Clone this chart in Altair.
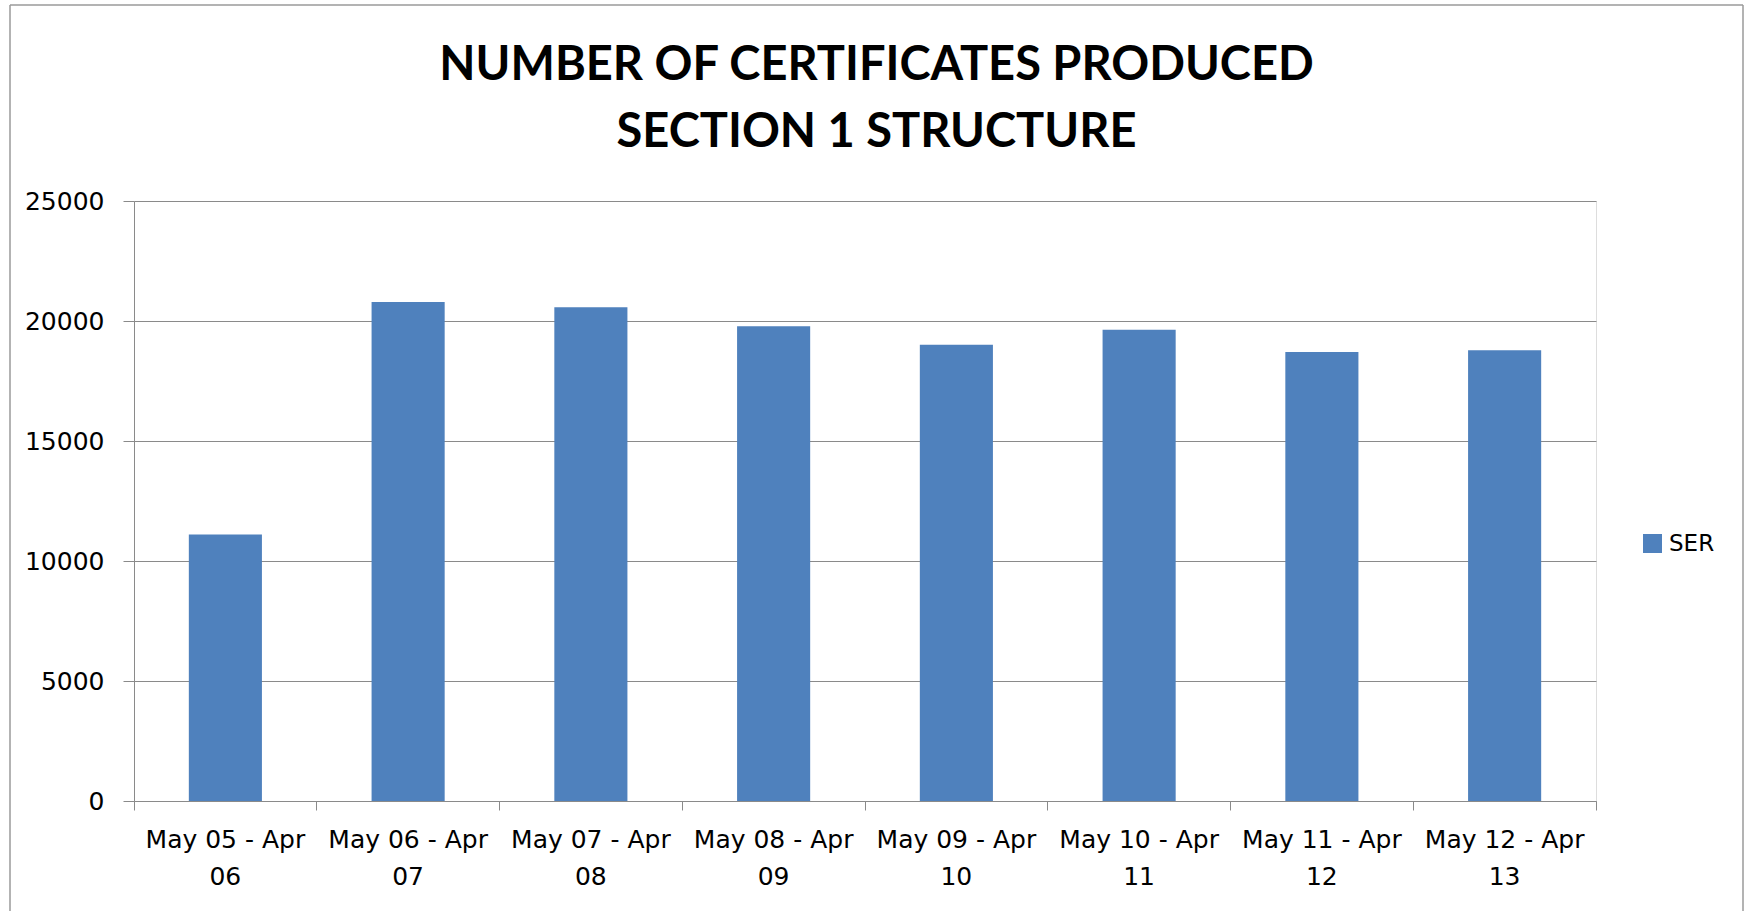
import altair as alt
import pandas as pd

# Certificates produced per reporting year (May - April)
periods = [
    "May 05 - Apr 06", "May 06 - Apr 07", "May 07 - Apr 08", "May 08 - Apr 09",
    "May 09 - Apr 10", "May 10 - Apr 11", "May 11 - Apr 12", "May 12 - Apr 13",
]
certificates = [11100, 20790, 20570, 19780, 19010, 19640, 18710, 18780]
series = ["SER"] * len(periods)
y_ticks = [0, 5000, 10000, 15000, 20000, 25000]

TITLE_FONT = "Lato"
FONT = "DejaVu Sans"
GRID = "#8a8a8a"
FRAME = "#9a9a9a"
BAR = "#4F81BD"
W, H = 1462, 600

df = pd.DataFrame({"period": periods, "certificates": certificates, "series": series})

bars = alt.Chart(df).mark_bar(width=alt.RelativeBandSize(0.4)).encode(
    x=alt.X(
        "period:N",
        sort=periods,
        scale=alt.Scale(paddingInner=0, paddingOuter=0),
        axis=alt.Axis(
            title=None,
            labelAngle=0,
            labelFont=FONT,
            labelFontSize=25,
            labelColor="black",
            labelLineHeight=37,
            labelPadding=17,
            labelExpr="[substring(datum.label, 0, lastindexof(datum.label, ' ')), "
                      "substring(datum.label, lastindexof(datum.label, ' ') + 1)]",
            bandPosition=1,
            tickExtra=True,
            tickSize=9,
            tickColor=GRID,
            domainColor=GRID,
            grid=False,
        ),
    ),
    y=alt.Y(
        "certificates:Q",
        scale=alt.Scale(domain=[0, 25000], nice=False),
        axis=alt.Axis(
            title=None,
            values=y_ticks,
            format="d",
            labelFont=FONT,
            labelFontSize=25,
            labelColor="black",
            labelPadding=19,
            tickSize=11,
            tickColor=GRID,
            domainColor=GRID,
            grid=True,
            gridColor=GRID,
        ),
    ),
    color=alt.Color(
        "series:N",
        scale=alt.Scale(range=[BAR]),
        legend=alt.Legend(
            title=None,
            orient="none",
            legendX=1507,
            legendY=331,
            symbolType="square",
            symbolSize=361,
            symbolStrokeWidth=0,
            labelFont=FONT,
            labelFontSize=23,
            labelColor="black",
            labelOffset=5,
            padding=0,
        ),
    ),
)

# Outer frame around the chart: top, left and right edges (bottom runs off the page)
one = pd.DataFrame({"k": [0]})
frame_style = dict(stroke=FRAME, strokeWidth=1.5)
frame_top = alt.Chart(one).mark_rule(**frame_style).encode(
    x=alt.value(-124), x2=alt.value(1609), y=alt.value(-196)
)
frame_left = alt.Chart(one).mark_rule(**frame_style).encode(
    x=alt.value(-124), y=alt.value(-196), y2=alt.value(712)
)
frame_right = alt.Chart(one).mark_rule(**frame_style).encode(
    x=alt.value(1609), y=alt.value(-196), y2=alt.value(712)
)

chart = alt.layer(frame_top, frame_left, frame_right, bars).properties(
    width=W,
    height=H,
    padding={"left": 9, "top": 4, "right": 5, "bottom": 0},
    title=alt.Title(
        ["NUMBER OF CERTIFICATES PRODUCED", "SECTION 1 STRUCTURE"],
        font=TITLE_FONT,
        fontSize=47,
        fontWeight="bold",
        color="black",
        lineHeight=67,
        anchor="middle",
        frame="bounds",
        baseline="alphabetic",
        offset=-190,
    ),
).configure_view(stroke=None).configure(background="white")

chart.save("out.html", embed_options={"renderer": "svg", "actions": False})
